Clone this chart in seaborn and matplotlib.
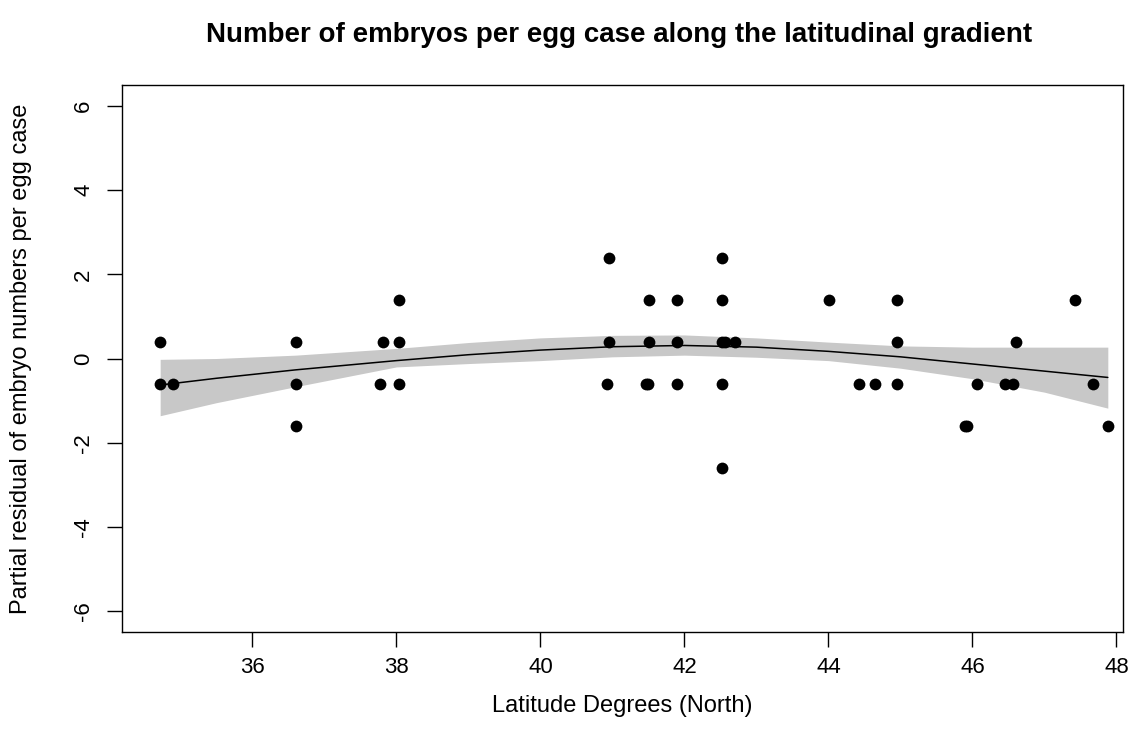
import numpy as np
import pandas as pd
import matplotlib
matplotlib.use("Agg")
import matplotlib.pyplot as plt
import seaborn as sns

# Partial residual points
latitude = [34.72, 34.72, 34.90,
            36.61, 36.61, 36.61,
            37.82, 37.77,
            38.04, 38.04, 38.04,
            40.95, 40.95, 40.93,
            41.51, 41.51, 41.47, 41.50,
            41.90, 41.90, 41.90,
            42.52, 42.52, 42.52, 42.57, 42.70, 42.52, 42.52,
            44.01, 44.43, 44.64,
            44.95, 44.95, 44.95,
            45.90, 45.93,
            46.07, 46.45, 46.57, 46.60,
            47.42, 47.67, 47.88]
residual = [0.4, -0.6, -0.6,
            0.4, -0.6, -1.6,
            0.4, -0.6,
            1.4, 0.4, -0.6,
            2.4, 0.4, -0.6,
            1.4, 0.4, -0.6, -0.6,
            1.4, 0.4, -0.6,
            2.4, 1.4, 0.4, 0.4, 0.4, -0.6, -2.6,
            1.4, -0.6, -0.6,
            1.4, 0.4, -0.6,
            -1.6, -1.6,
            -0.6, -0.6, -0.6, 0.4,
            1.4, -0.6, -1.6]

# Fitted effect and confidence band
fit_lat = [34.72, 35.5, 36.6, 38.0, 39.0, 40.0, 41.0, 42.0, 43.0, 44.0, 45.0, 46.0, 47.0, 47.88]
fit_mid = [-0.63, -0.47, -0.27, -0.05, 0.09, 0.20, 0.28, 0.31, 0.27, 0.17, 0.04, -0.13, -0.30, -0.45]
fit_lo = [-1.36, -1.05, -0.67, -0.20, -0.12, -0.05, 0.04, 0.08, 0.03, -0.05, -0.23, -0.48, -0.80, -1.18]
fit_hi = [-0.02, 0.00, 0.08, 0.24, 0.38, 0.49, 0.55, 0.56, 0.49, 0.39, 0.30, 0.27, 0.27, 0.27]

x_ticks = [36, 38, 40, 42, 44, 46, 48]
y_ticks = [-6, -4, -2, 0, 2, 4, 6]

sns.set_style("white")
plt.rcParams['font.family'] = ['Liberation Sans', 'DejaVu Sans']
plt.rcParams['text.color'] = 'black'
plt.rcParams['axes.labelcolor'] = 'black'
plt.rcParams['xtick.color'] = 'black'
plt.rcParams['ytick.color'] = 'black'

fig = plt.figure(figsize=(11.36, 7.49), dpi=100)
ax = fig.add_axes([0.1074, 0.1562, 0.8811, 0.7303])

pts = pd.DataFrame({"lat": latitude, "res": residual})
fit = pd.DataFrame({"lat": fit_lat, "mid": fit_mid, "lo": fit_lo, "hi": fit_hi})

ax.fill_between(fit["lat"], fit["lo"], fit["hi"], color="#c8c8c8", linewidth=0, zorder=1)
sns.lineplot(data=fit, x="lat", y="mid", color="black", linewidth=1.1, ax=ax, zorder=2)
sns.scatterplot(data=pts, x="lat", y="res", color="black", s=72, edgecolor="black",
                linewidth=0, ax=ax, zorder=3)

ax.set_xlim(34.19, 48.09)
ax.set_ylim(-6.5, 6.5)
ax.set_xticks(x_ticks)
ax.set_yticks(y_ticks)
ax.set_xticklabels([str(t) for t in x_ticks], fontsize=16)
ax.set_yticklabels([str(t) for t in y_ticks], fontsize=16, rotation=90, va="center")
ax.tick_params(axis="both", direction="out", length=11, width=1, color="black",
               bottom=True, left=True, pad=9)
ax.tick_params(axis="x", pad=7)

for sp in ax.spines.values():
    sp.set_visible(True)
    sp.set_color("black")
    sp.set_linewidth(1)

ax.set_xlabel("Latitude Degrees (North)", fontsize=17, labelpad=12)
ax.set_ylabel("Partial residual of embryo numbers per egg case", fontsize=17, labelpad=30)
fig.suptitle("Number of embryos per egg case along the latitudinal gradient",
             fontsize=20, fontweight="bold", x=0.545, y=0.97)

fig.savefig("out.png", dpi=100, facecolor="white")
